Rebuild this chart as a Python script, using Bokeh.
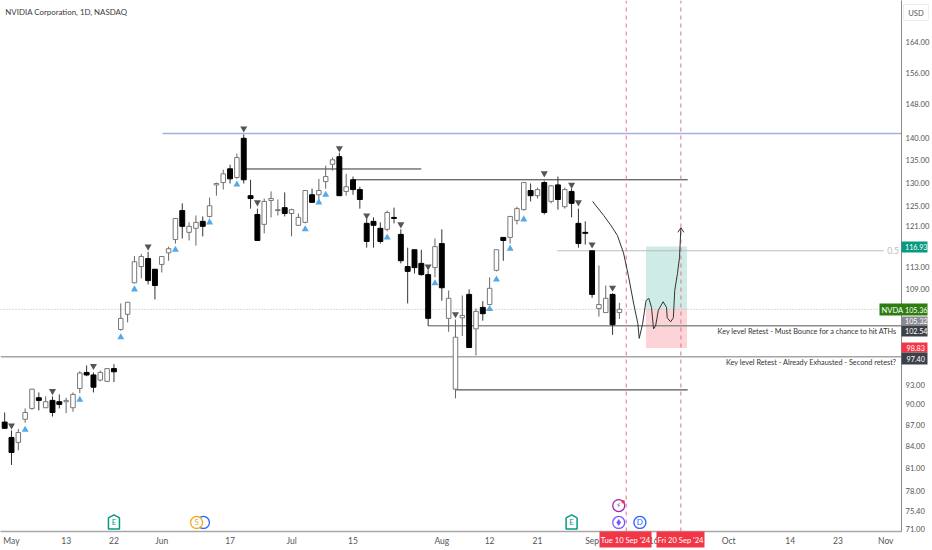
import numpy as np
from bokeh.plotting import figure
from bokeh.layouts import column
from bokeh.models import Label, FixedTicker, Range1d
from bokeh.core.properties import value
from bokeh.embed import file_html
from bokeh.resources import INLINE

FONT = "Lato"

opens = [87.4,85.2,84.5,87.8,89.4,91.0,89.5,90.6,90.4,90.4,89.5,92.4,94.9,94.5,93.7,93.5,95.5,
101.9,104.5,110.1,113.1,114.6,112.6,113.5,115.7,118.3,124.1,119.7,120.5,121.9,122.9,129.5,130.0,133.0,131.1,139.9,
127.2,123.3,121.3,126.2,124.1,124.7,123.5,121.1,121.7,127.4,127.4,130.2,134.0,135.7,128.1,130.6,128.5,
121.5,121.9,120.5,120.3,122.7,119.3,113.1,116.3,113.7,111.6,112.9,117.5,103.8,92.3,103.9,108.0,102.0,105.7,
106.2,112.4,118.7,118.7,122.1,124.3,128.3,127.2,130.0,126.0,129.5,124.9,128.1,121.5,119.7,116.1,105.5,104.8,108.0,104.8]
highs = [88.8,86.2,86.4,89.4,92.3,91.8,91.2,91.2,91.5,91.0,91.8,95.1,96.0,94.9,95.2,95.5,96.2,
106.4,106.6,115.1,115.5,115.9,112.6,115.1,116.9,122.5,125.6,121.7,123.1,122.9,126.8,130.0,132.8,133.9,136.4,140.8,
130.6,124.5,126.6,128.1,126.4,127.9,124.5,123.5,128.3,128.7,130.8,133.7,135.5,136.6,131.9,131.3,129.1,
122.5,122.7,121.7,124.1,124.7,120.3,116.7,116.3,116.3,112.4,118.5,120.3,108.7,103.6,107.8,108.9,105.5,106.8,
111.1,116.3,118.7,122.9,124.9,130.0,129.8,128.9,130.4,129.5,131.3,128.9,128.7,124.5,121.9,116.1,113.3,109.6,108.2,106.5]
lows = [86.4,81.4,83.4,87.3,89.2,89.1,89.5,88.2,89.4,88.7,88.9,91.7,94.3,91.8,93.5,93.4,93.4,
101.7,103.1,110.0,110.9,109.8,107.1,112.0,114.2,117.5,118.5,118.1,117.1,118.9,122.7,127.2,128.5,129.8,130.8,129.8,
124.5,118.1,119.5,122.7,123.1,122.9,118.9,121.1,121.5,125.8,126.4,128.7,132.6,127.2,127.2,127.4,124.5,
116.7,116.7,117.5,119.9,121.5,113.7,106.4,111.8,111.4,102.5,111.1,106.9,101.5,90.9,100.8,98.9,97.6,103.4,
106.2,112.2,114.2,117.5,121.3,124.1,126.0,126.6,123.3,125.6,124.3,124.5,122.7,116.7,117.3,107.4,104.1,104.8,101.0,103.7]
closes = [86.5,83.1,85.9,88.8,92.3,90.6,90.4,88.8,90.0,90.6,91.5,94.8,94.5,92.6,94.9,95.5,95.0,
103.8,106.6,114.0,115.0,110.5,109.6,115.0,116.5,122.5,120.9,120.9,121.7,120.9,125.1,129.8,131.9,130.8,135.5,130.6,
126.6,118.1,126.0,126.6,124.3,123.5,124.3,122.7,128.3,125.8,128.3,131.3,135.0,127.2,129.1,128.5,126.4,
117.9,121.1,117.9,123.7,122.5,114.2,112.2,112.9,111.6,103.8,116.9,109.2,107.3,100.6,104.3,98.9,105.0,104.6,
109.1,116.3,118.1,122.9,124.5,130.0,127.2,128.5,123.7,129.3,126.4,128.5,125.6,117.5,119.5,108.0,106.2,107.3,102.7,105.36]
bars = list(range(-1, 90))

up_bars = [2,10,16,18,24,29,33,43,45,46,55,62,70,71,73,75]
up_prices = [86.3,90.7,100.6,108.9,116.3,121.7,129.6,120.3,125.8,127.4,118.7,110.0,105.4,110.7,116.5,122.3]
down_bars = [0,6,12,20,34,36,48,52,57,61,65,78,82,83,85,88]
down_prices = [86.9,92.0,95.9,116.9,142.2,125.8,137.6,123.1,121.3,113.1,104.5,132.0,129.5,125.8,117.3,109.2]

path_bars = [85.07,86.7,87.8,88.7,89.6,90.3,91.1,91.7,91.9,92.4,92.9,93.3,93.7,94.0,94.3,94.7,95.4,95.9,96.0,96.5,96.9,97.1,97.5,97.8,98.0]
path_prices = [126.0,123.1,121.0,119.1,115.7,111.5,106.3,102.9,100.4,102.9,106.9,107.3,105.7,102.0,102.5,105.2,106.7,105.7,103.9,103.2,103.9,108.7,111.8,114.8,120.6]

x_ticks = [0,8,15,22,32,41,50,63,70,77,85,94,105,114,121,128]
x_labels = ["May","13","22","Jun","17","Jul","15","Aug","12","21","Sep","16","Oct","14","23","Nov"]
y_ticks = [164,156,148,140,135,130,125,121,113,109,93,90,87,84,81,78,75.4]

X0, X1 = -1.61, 130.3
Y0, Y1 = 72.9, 175.8

p = figure(width=932, height=550, output_backend="svg", toolbar_location=None,
           x_range=Range1d(X0, X1), y_range=Range1d(Y0, Y1), y_axis_type="log",
           y_axis_location="right", min_border_left=0, min_border_top=0,
           min_border_right=31, min_border_bottom=19, background_fill_color="white",
           border_fill_color="white", outline_line_color=None)
p.grid.visible = False

ax = p.yaxis[0]
ax.ticker = FixedTicker(ticks=y_ticks)
ax.major_label_overrides = {t: f"{t:.2f}" for t in y_ticks}
ax.major_tick_line_color = None
ax.minor_tick_line_color = None
ax.major_tick_out = 0
ax.major_tick_in = 0
ax.minor_tick_out = 0
ax.minor_tick_in = 0
ax.major_label_standoff = 4
ax.major_label_text_font = FONT
ax.major_label_text_font_size = "7.6px"
ax.major_label_text_color = "#555555"
ax.axis_line_color = "#8a8a8a"
ax.axis_line_width = 1

bx = p.xaxis[0]
bx.ticker = FixedTicker(ticks=x_ticks)
bx.major_label_overrides = dict(zip(x_ticks, x_labels))
bx.major_tick_line_color = None
bx.minor_tick_line_color = None
bx.major_tick_out = 0
bx.major_tick_in = 0
bx.minor_tick_out = 0
bx.minor_tick_in = 0
bx.major_label_standoff = 4
bx.major_label_text_font = FONT
bx.major_label_text_font_size = "8.5px"
bx.major_label_text_color = "#555555"
bx.axis_line_color = "#a8a8a8"
bx.axis_line_width = 1.5

# position box
p.quad(left=[92.9], right=[98.9], top=[116.93], bottom=[105.36], fill_color="#089981", fill_alpha=0.2, line_color=None)
p.quad(left=[92.9], right=[98.9], top=[105.36], bottom=[98.83], fill_color="#f23645", fill_alpha=0.22, line_color=None)

# horizontal levels
p.line([X0, X1], [105.36, 105.36], line_color="#b5b5a0", line_dash="1 2", line_width=1)
p.line([22.1, X1], [141.0, 141.0], line_color="#9fb4d8", line_width=1.5)
p.line([34, 60], [132.96, 132.96], line_color="#333333", line_width=1)
p.line([50, 99], [130.6, 130.6], line_color="#333333", line_width=1)
p.line([79.9, 127.7], [116.1, 116.1], line_color="#bdbdbd", line_width=1)
p.line([61, X1], [102.54, 102.54], line_color="#8c8c8c", line_width=1.5)
p.line([X0, X1], [97.4, 97.4], line_color="#a6a6a6", line_width=1.5)
p.line([65, 99], [92.2, 92.2], line_color="#555555", line_width=1.2)

# event lines
for b in (90, 98):
    p.line([b, b], [Y0, Y1], line_color="#e8799b", line_dash="4 4", line_width=1.1)

# candles
o, h, l, c = map(np.array, (opens, highs, lows, closes))
x = np.array(bars)
dn = c < o
upm = ~dn
p.segment(x[upm], h[upm], x[upm], l[upm], line_color="#666666", line_width=1)
p.segment(x[dn], h[dn], x[dn], l[dn], line_color="#333333", line_width=1)
p.vbar(x[upm], 0.66, c[upm], o[upm], fill_color="white", line_color="#777777", line_width=1)
p.vbar(x[dn], 0.72, o[dn], c[dn], fill_color="black", line_color="black", line_width=1)

# signals
p.scatter(up_bars, up_prices, marker="triangle", size=7, fill_color="#55a9e6", line_color=None)
p.scatter(down_bars, down_prices, marker="inverted_triangle", size=7, fill_color="#555555", line_color=None)

# hand-drawn path
p.line(path_bars, path_prices, line_color="#333333", line_width=1)
p.line([97.55, 98.0, 98.45], [119.7, 120.6, 119.7], line_color="#333333", line_width=1)


def lab(text, bx_, pr, color="#333333", size="9px", align="left", font=FONT):
    p.add_layout(Label(x=bx_, y=pr, text=text, text_color=color, text_font=font, text_font_size=size,
                       text_align=align, text_baseline="middle", level="overlay"))


lab("NVIDIA Corporation, 1D, NASDAQ", -0.9, 172.6, size="7.9px", color="#3a3a3a")
lab("Key level Retest - Must Bounce for a chance to hit ATHs", 129.6, 101.55, size="7.3px", align="right")
lab("Key level Retest - Already Exhausted - Second retest?", 129.6, 96.5, size="7.3px", align="right")
lab("0.5", 128.2, 116.1, color="#bdbdbd", size="8.5px")


# event icons
def house(bar, price, col):
    dx = np.array([-5.5, -5.5, 0, 5.5, 5.5]) / 6.83
    dy = np.array([-6.5, 4.5, 7.5, 4.5, -6.5])
    p.patch(bar + dx, price * np.exp(dy / 603), fill_color="white", line_color=col, line_width=1.5)
    lab("E", bar, price, color=col, size="8px", align="center")


EV = 74.0
house(15, EV, "#089981")
house(82, EV, "#089981")
p.scatter([28.1], [EV], marker="circle", size=12, fill_color="white", line_color="#2962ff", line_width=1.3)
p.scatter([27.1], [EV], marker="circle", size=12, fill_color="white", line_color="#f5a623", line_width=1.3)
lab("S", 27.1, EV, color="#f5a623", size="8px", align="center")
p.scatter([92], [EV], marker="circle", size=12, fill_color="white", line_color="#2962ff", line_width=1.3)
lab("D", 92, EV, color="#2962ff", size="8px", align="center")
p.scatter([88.9], [EV], marker="circle", size=12, fill_color="white", line_color="#7e57ff", line_width=1.3)
p.scatter([88.9], [EV], marker="diamond", size=7, fill_color="#7e57ff", line_color=None)
p.scatter([88.9], [76.1], marker="circle", size=12, fill_color="white", line_color="#9c27b0", line_width=1.3)
p.scatter([89.55], [76.6], marker="circle", size=3.5, fill_color="#f23645", line_color=None)
lab("\u26a1", 88.9, 76.1, color="#9c27b0", size="7.5px", align="center", font="DejaVu Sans")

# overlay for the price and date tags, which sit over the axes
q = figure(frame_width=932, frame_height=550, output_backend="svg", toolbar_location=None,
           x_range=Range1d(0, 932), y_range=Range1d(550, 0), x_axis_location=None, y_axis_location=None,
           min_border=0, min_border_left=0, min_border_right=0, min_border_top=0, min_border_bottom=0,
           outline_line_color=None, background_fill_alpha=0, border_fill_alpha=0)
q.margin = (-550, 0, 0, 0)
q.grid.visible = False


def tag(x0, x1, y0, y1, col, text, tx=None, align="left", tcol="white", size="7.2px", border=None):
    q.quad(left=[x0], right=[x1], top=[y0], bottom=[y1], fill_color=col, line_color=border)
    q.text([x0 + 3.5 if tx is None else tx], [(y0 + y1) / 2], text=[text], text_color=tcol,
           text_font=value(FONT), text_font_size=size, text_align=align, text_baseline="middle")


tag(903, 928, 4, 20, "white", "USD", tx=915.5, align="center", tcol="#555555", size="7.6px", border="#eeeeee")
tag(901, 927, 241, 252, "#089981", "116.93")
tag(879, 927, 303, 315, "#2e7d10", "105.36", tx=904.5)
q.text([881], [309], text=["NVDA"], text_color="white", text_font=value(FONT), text_font_size="7.6px", text_baseline="middle")
tag(901, 927, 316, 325, "#8a8a92", "105.32")
tag(901, 927, 325, 336, "#3c4048", "102.54")
tag(901, 927, 342, 352, "#f23645", "98.83", tx=906)
tag(901, 927, 352, 364, "#3c4048", "97.40", tx=906)
tag(599, 651, 531, 547, "#f23645", "Tue 10 Sep '24", tx=625, align="center", size="7.6px")
tag(656, 704, 531, 547, "#f23645", "Fri 20 Sep '24", tx=680, align="center", size="7.6px")
q.text([905], [528], text=["71.00"], text_color="#555555", text_font=value(FONT), text_font_size="7.6px", text_baseline="middle")

root = column(p, q)
root.styles = {"position": "absolute", "left": "0px", "top": "0px"}
open("out.html", "w").write(file_html(root, INLINE))
